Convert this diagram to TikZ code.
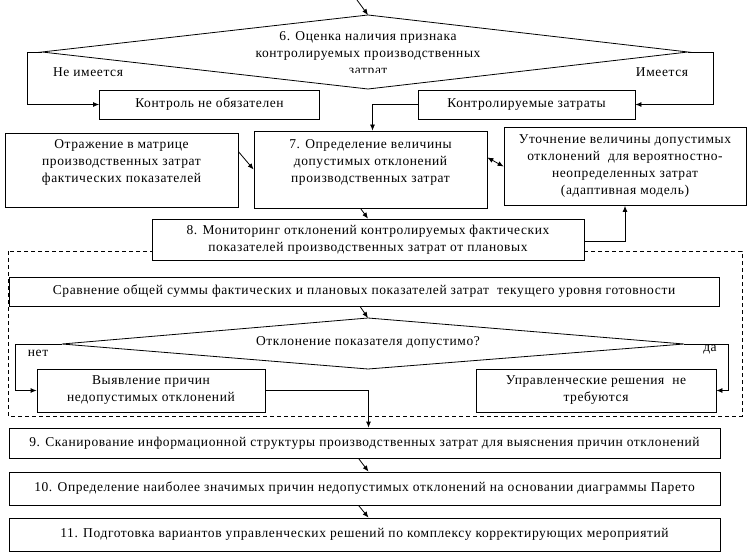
\documentclass[tikz,border=0pt]{standalone}
\usepackage{fontspec}
\setmainfont[LetterSpace=4.5]{Liberation Serif}
\usetikzlibrary{arrows.meta}
\begin{document}
\begin{tikzpicture}[x=1pt,y=-1pt,line width=0.8pt,
  font=\fontsize{13.5}{17}\selectfont,
  box/.style={draw, fill=white, align=center, inner sep=0pt},
  arr/.style={-{Latex[length=6pt,width=5pt]}},
  darr/.style={{Latex[length=6pt,width=5pt]}-{Latex[length=6pt,width=5pt]}}]
\useasboundingbox (0,0) rectangle (751,556);

% dashed frame
\draw[dash pattern=on 4pt off 3pt] (8,251) rectangle (742,416);

% decision 6
\coordinate (in6) at (357,0);
\coordinate (d6t) at (368,15);
\coordinate (d6r) at (688,52);
\coordinate (d6b) at (368,89);
\coordinate (d6l) at (42,52);
\draw (d6t) -- (d6r) -- (d6b) -- (d6l) -- cycle;
\begin{scope}
  \clip (0,0) rectangle (751,73);
  \node[align=center] (q6) at (368,54) {6. Оценка наличия признака\\контролируемых производственных\\затрат};
\end{scope}
\node (no6) at (88,72) {Не имеется};
\node (yes6) at (662,72) {Имеется};

\node[box, minimum width=220, minimum height=29] (nocontrol) at (209.5,104.5) {Контроль не обязателен};
\node[box, minimum width=217, minimum height=29] (control) at (526.5,104.5) {Контролируемые затраты};

% middle row
\node[box, minimum width=233, minimum height=74] (matrix) at (121.5,170) {Отражение в матрице\\производственных затрат\\фактических показателей\\\mbox{}};
\node[box, minimum width=233, minimum height=77] (limits) at (370.5,169.5) {7. Определение величины\\допустимых отклонений\\производственных затрат\\\mbox{}};
\node[box, minimum width=242, minimum height=78] (adapt) at (625,166.5) {Уточнение величины допустимых\\отклонений \ для вероятностно-\\неопределенных затрат\\(адаптивная модель)};
\node[box, minimum width=432, minimum height=41] (monitor) at (368,239.5) {8. Мониторинг отклонений контролируемых фактических\\показателей производственных затрат от плановых};

% inside the frame
\node[box, minimum width=710, minimum height=29] (compare) at (364,291.5) {Сравнение общей суммы фактических и плановых показателей затрат \ текущего уровня готовности};
\coordinate (d2t) at (368,318);
\coordinate (d2r) at (684,344);
\coordinate (d2b) at (368,369);
\coordinate (d2l) at (62,344);
\draw (d2t) -- (d2r) -- (d2b) -- (d2l) -- cycle;
\node (q2) at (368,342) {Отклонение показателя допустимо?};
\node (no2) at (38,353) {нет};
\node (yes2) at (710,350) {да};
\node[box, minimum width=228, minimum height=43] (reasons) at (151,390.5) {Выявление причин\\недопустимых отклонений};
\node[box, minimum width=240, minimum height=43] (nodecision) at (596,390.5) {Управленческие решения \ не\\требуются};

% lower steps
\node[box, minimum width=711, minimum height=30] (scan) at (364.5,443) {9. Сканирование информационной структуры производственных затрат для выяснения причин отклонений};
\node[box, minimum width=711, minimum height=33] (pareto) at (364.5,488.5) {10. Определение наиболее значимых причин недопустимых отклонений на основании диаграммы Парето};
\node[box, minimum width=711, minimum height=33] (prepare) at (364.5,534.5) {11. Подготовка вариантов управленческих решений по комплексу корректирующих мероприятий};

% connectors
\draw[arr] (in6) -- (d6t);
\draw[arr] (d6l) -- (27,52) |- (nocontrol.west);
\draw[arr] (d6r) -- (713,52) |- (control.east);
\draw[arr] (control.west) -| ([xshift=2pt]limits.north);
\draw[arr] ([yshift=-19pt]matrix.north east) -- (limits.west);
\draw[darr] ([yshift=12pt]limits.east) -- (adapt.west);
\draw[arr] ([xshift=-10pt]limits.south) -- (monitor.north);
\draw[arr] ([yshift=-2pt]monitor.east) -| (adapt.south);
\draw[arr] ([xshift=-4pt]compare.south) -- (d2t);
\draw[arr] (d2l) -- (15,344) |- (reasons.west);
\draw[arr] (d2r) -- (728,344) |- (nodecision.east);
\draw[arr] (reasons.east) -| ([xshift=4pt]scan.north);
\foreach \a/\b in {scan/pareto, pareto/prepare}
  \draw[arr] ([xshift=-6pt]\a.south) -- ([xshift=4pt]\b.north);
\end{tikzpicture}
\end{document}
